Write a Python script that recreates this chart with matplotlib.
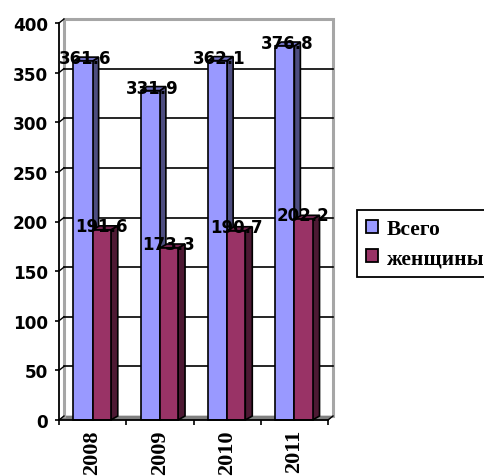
import matplotlib
matplotlib.use('Agg')
import matplotlib.pyplot as plt
from matplotlib.patches import Polygon, Patch

years = ['2008', '2009', '2010', '2011']
vsego = [361.6, 331.9, 362.1, 376.8]
zhenshchiny = [191.6, 173.3, 190.7, 202.2]
y_ticks = [0, 50, 100, 150, 200, 250, 300, 350, 400]
legend_labels = ['Всего', 'женщины']

W, H = 485, 477
fig = plt.figure(figsize=(W / 100, H / 100), dpi=100)
ax = fig.add_axes([59 / W, (H - 421) / H, 269 / W, 397 / H])
ax.set_xlim(0, 4)
ax.set_ylim(0, 400)

# размер "глубины" в единицах данных
px_x = 4 / 269
px_y = 400 / 397
dx = 5 * px_x
dy = 4 * px_y
bar_dx = 7 * px_x

# задняя стенка и пол
ax.add_patch(Polygon([(0, 0), (4, 0), (4 + dx, dy), (dx, dy)], closed=True,
                     fc='#808080', ec='#808080', lw=0.5, clip_on=False, zorder=1))
ax.plot([dx, dx, 4 + dx, 4 + dx], [dy, 400 + dy, 400 + dy, dy],
        color='#a6a6a6', lw=2.2, clip_on=False, zorder=1, solid_joinstyle='miter')
for t in y_ticks[1:-1]:
    ax.plot([dx, 4 + dx], [t + dy, t + dy], color='k', lw=1.2, clip_on=False, zorder=2)
ax.plot([4, 4 + dx], [0, dy], color='k', lw=1.0, clip_on=False, zorder=2)
for t in y_ticks:
    ax.plot([0, dx], [t, t + dy], color='k', lw=1.0, clip_on=False, zorder=2)


def draw_bars(values, offset, width, front, side, top, depth, zo):
    for i, v in enumerate(values):
        x0 = i + offset
        x1 = x0 + width
        ax.add_patch(Polygon([(x1, 0), (x1 + depth, dy), (x1 + depth, v + dy), (x1, v)], closed=True,
                             fc=side, ec='k', lw=1.2, clip_on=False, zorder=zo))
        ax.add_patch(Polygon([(x0, v), (x0 + depth, v + dy), (x1 + depth, v + dy), (x1, v)], closed=True,
                             fc=top, ec='k', lw=1.2, clip_on=False, zorder=zo))
        ax.bar(x0, v, width, align='edge', color=front, edgecolor='k', lw=1.2, zorder=zo, clip_on=False)


draw_bars(vsego, 0.215, 0.285, '#9999ff', '#4d4d80', '#6f6fc0', 6 * px_x, 3)
draw_bars(zhenshchiny, 0.50, 0.27, '#993366', '#4d1933', '#732650', bar_dx, 4)

for i, v in enumerate(vsego):
    ax.annotate(f'{v}', (i + 0.215 + 0.1425, v), xytext=(1.5, 2.2), textcoords='offset points',
                ha='center', va='center', fontsize=12, fontweight='bold', zorder=6)
for i, v in enumerate(zhenshchiny):
    ax.annotate(f'{v}', (i + 0.50 + 0.135, v), xytext=(0, 2.8), textcoords='offset points',
                ha='center', va='center', fontsize=12, fontweight='bold', zorder=6)

ax.patch.set_visible(False)
for s in ['top', 'right']:
    ax.spines[s].set_visible(False)
for s in ['left', 'bottom']:
    ax.spines[s].set_linewidth(1.3)
    ax.spines[s].set_zorder(5)

ax.set_yticks(y_ticks)
ax.tick_params(axis='y', length=3, width=1.2, pad=5, labelsize=12.2)
for lab in ax.get_yticklabels():
    lab.set_fontweight('bold')

ax.set_xticks(range(5))
ax.set_xticks([i + 0.5 for i in range(4)], minor=True)
ax.set_xticklabels([])
ax.set_xticklabels(years, minor=True, rotation=90, family='Liberation Serif',
                   fontweight='bold', fontsize=16)
ax.tick_params(axis='x', which='major', length=3.5, width=1.2)
ax.tick_params(axis='x', which='minor', length=0, pad=6.5)

handles = [Patch(fc='#9999ff', ec='k', lw=1.3), Patch(fc='#993366', ec='k', lw=1.3)]
leg = fig.legend(handles, legend_labels, loc='upper left',
                 bbox_to_anchor=(357 / W, (H - 211) / H), fancybox=False, framealpha=1,
                 edgecolor='k', borderaxespad=0, handlelength=0.56, handleheight=0.56,
                 handletextpad=0.4, labelspacing=0.42, borderpad=0.42,
                 prop={'family': 'Liberation Serif', 'weight': 'bold', 'size': 15.5})
leg.get_frame().set_linewidth(1.3)

fig.savefig('out.png', dpi=100)
